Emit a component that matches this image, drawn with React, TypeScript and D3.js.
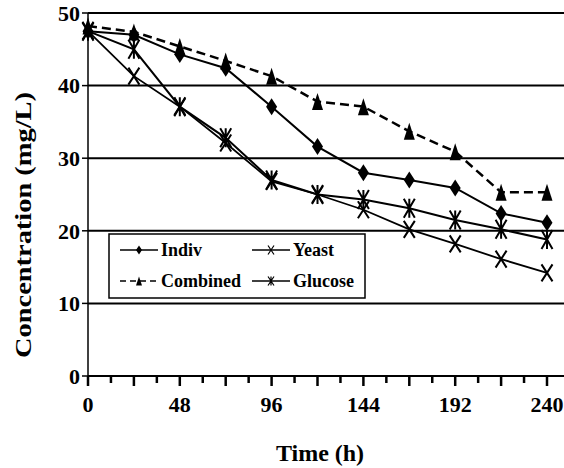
import React from "react";
import * as d3 from "d3";

const times = [0, 24, 48, 72, 96, 120, 144, 168, 192, 216, 240];
const indiv = [47.5, 47.0, 44.3, 42.4, 37.1, 31.6, 28.0, 27.0, 25.9, 22.4, 21.1];
const yeast = [47.5, 41.3, 37.1, 32.1, 26.8, 25.0, 22.9, 20.2, 18.2, 16.1, 14.2];
const combined = [48.2, 47.4, 45.4, 43.4, 41.3, 37.8, 37.1, 33.7, 30.9, 25.3, 25.3];
const glucose = [47.5, 45.0, 37.1, 32.8, 27.0, 25.0, 24.3, 23.1, 21.5, 20.2, 18.8];
const xTickLabels = [0, 48, 96, 144, 192, 240];
const yTickLabels = [0, 10, 20, 30, 40, 50];

type Marker = "diamond" | "x" | "triangle" | "star";
const seriesList: { name: string; values: number[]; marker: Marker; dash?: string; width: number }[] = [
  { name: "Indiv", values: indiv, marker: "diamond", width: 2 },
  { name: "Yeast", values: yeast, marker: "x", width: 1.8 },
  { name: "Combined", values: combined, marker: "triangle", dash: "9,5", width: 2.5 },
  { name: "Glucose", values: glucose, marker: "star", width: 2 },
];

const FONT = "'Liberation Serif', 'Times New Roman', serif";

function MarkerShape({ type, cx, cy, w, h, sw }: { type: Marker; cx: number; cy: number; w: number; h: number; sw: number }) {
  const hw = w / 2, hh = h / 2;
  if (type === "diamond")
    return <path d={`M${cx},${cy - hh}L${cx + hw},${cy}L${cx},${cy + hh}L${cx - hw},${cy}Z`} fill="#000" />;
  if (type === "triangle")
    return <path d={`M${cx},${cy - hh}L${cx + hw},${cy + hh}L${cx - hw},${cy + hh}Z`} fill="#000" />;
  if (type === "x")
    return (
      <path d={`M${cx - hw},${cy - hh}L${cx + hw},${cy + hh}M${cx + hw},${cy - hh}L${cx - hw},${cy + hh}`} stroke="#000" strokeWidth={sw} fill="none" />
    );
  return (
    <path
      d={`M${cx - hw},${cy - hh}L${cx + hw},${cy + hh}M${cx + hw},${cy - hh}L${cx - hw},${cy + hh}M${cx},${cy - hh}L${cx},${cy + hh}`}
      stroke="#000"
      strokeWidth={sw}
      fill="none"
    />
  );
}

export default function App() {
  const W = 564, H = 468;
  const x = d3.scaleLinear().domain([0, 240]).range([88, 547]);
  const y = d3.scaleLinear().domain([0, 50]).range([376, 13]);
  const line = d3
    .line<number>()
    .x((_, i) => x(times[i]))
    .y((d) => y(d));
  const minorTicks = d3.range(0, 264, 12);

  const legendItems = [
    { s: seriesList[0], lx: 120, ly: 250 },
    { s: seriesList[1], lx: 252, ly: 250 },
    { s: seriesList[2], lx: 120, ly: 281 },
    { s: seriesList[3], lx: 252, ly: 281 },
  ];

  return (
    <svg width={W} height={H} style={{ position: "absolute", left: 0, top: 0, background: "#fff" }}>
      {/* gridlines */}
      {yTickLabels.filter((v) => v > 0).map((v) => (
        <line key={v} x1={88} x2={W} y1={y(v)} y2={y(v)} stroke="#000" strokeWidth={2} />
      ))}
      {/* y axis */}
      <line x1={88} x2={88} y1={y(50)} y2={y(0)} stroke="#000" strokeWidth={1.5} />
      {yTickLabels.map((v) => (
        <g key={v}>
          <line x1={82} x2={88} y1={y(v)} y2={y(v)} stroke="#000" strokeWidth={1.5} />
          <text x={80} y={y(v)} dy="0.35em" textAnchor="end" fontFamily={FONT} fontWeight="bold" fontSize={22}>
            {v}
          </text>
        </g>
      ))}
      {/* x axis */}
      <line x1={88} x2={W} y1={y(0)} y2={y(0)} stroke="#000" strokeWidth={2} />
      {minorTicks.map((t) => (
        <line key={t} x1={x(t)} x2={x(t)} y1={y(0)} y2={y(0) + (t % 24 === 0 ? 10 : 7)} stroke="#000" strokeWidth={2.5} />
      ))}
      {xTickLabels.map((t) => (
        <text key={t} x={x(t)} y={412} textAnchor="middle" fontFamily={FONT} fontWeight="bold" fontSize={22}>
          {t}
        </text>
      ))}
      {/* series */}
      {seriesList.map((s) => (
        <g key={s.name}>
          <path d={line(s.values) || ""} fill="none" stroke="#000" strokeWidth={s.width} strokeDasharray={s.dash} />
          {s.values.map((v, i) => (
            <MarkerShape key={i} type={s.marker} cx={x(times[i])} cy={y(v)} w={11} h={s.marker === "star" ? 19 : 17} sw={2} />
          ))}
        </g>
      ))}
      {/* legend */}
      <rect x={109} y={234} width={256} height={64} fill="#fff" stroke="#000" strokeWidth={1.5} />
      {legendItems.map(({ s, lx, ly }) => (
        <g key={s.name}>
          <line x1={lx} x2={lx + 38} y1={ly} y2={ly} stroke="#000" strokeWidth={1.5} strokeDasharray={s.dash ? "6,4" : undefined} />
          <MarkerShape type={s.marker} cx={lx + 19} cy={ly} w={6} h={9} sw={1.2} />
          <text x={lx + 41} y={ly + 6} fontFamily={FONT} fontWeight="bold" fontSize={18}>
            {s.name}
          </text>
        </g>
      ))}
      {/* axis titles */}
      <text x={320} y={461} textAnchor="middle" fontFamily={FONT} fontWeight="bold" fontSize={24}>
        Time (h)
      </text>
      <text
        transform="translate(30.5,225) rotate(-90)"
        textAnchor="middle"
        fontFamily={FONT}
        fontWeight="bold"
        fontSize={24}
        textLength={266}
        lengthAdjust="spacingAndGlyphs"
      >
        Concentration (mg/L)
      </text>
    </svg>
  );
}
